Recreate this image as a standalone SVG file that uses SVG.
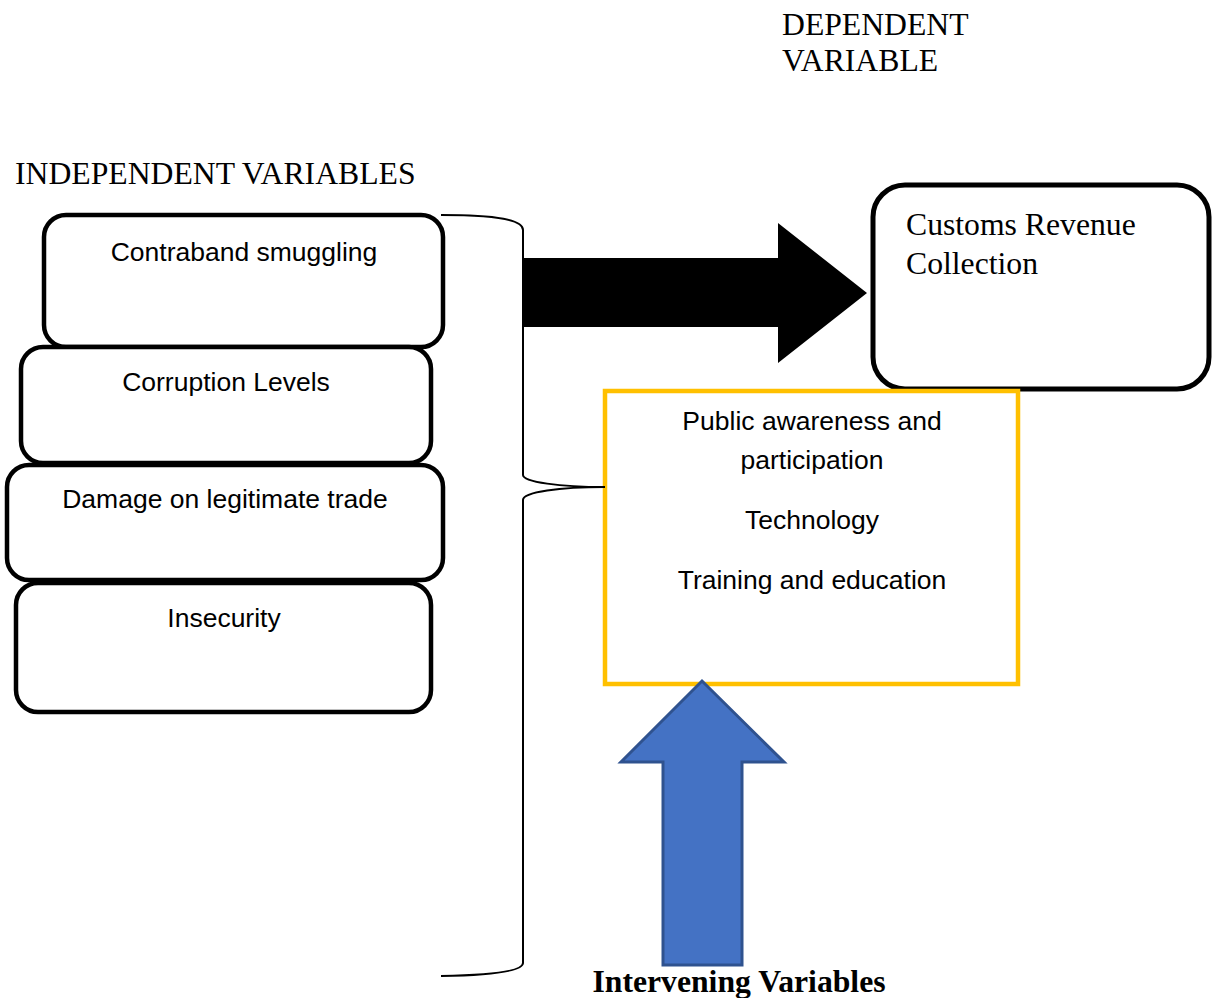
<svg xmlns="http://www.w3.org/2000/svg" width="1217" height="998" viewBox="0 0 1217 998">
<style>
.bg{fill:#ffffff}
.box{fill:#ffffff;stroke:#000000;stroke-width:4.5}
.sans{font-family:"Liberation Sans",Arial,sans-serif;font-size:26.5px;fill:#000000}
.serif{font-family:"Liberation Serif","Times New Roman",serif;font-size:31.7px;fill:#000000}
.bold{font-weight:bold}
.mid{text-anchor:middle}
</style>
<rect class="bg" x="0" y="0" width="1217" height="998"/>
<g id="title-dependent"><text class="serif" x="782" y="35">DEPENDENT</text><text class="serif" x="782" y="71">VARIABLE</text></g>
<g id="title-independent"><text class="serif" x="15" y="184">INDEPENDENT VARIABLES</text></g>
<g id="node-contraband"><rect class="box" x="44" y="215" width="399" height="132" rx="22"/><text class="sans mid" x="244" y="261">Contraband smuggling</text></g>
<g id="node-corruption"><rect class="box" x="21" y="347" width="410" height="116" rx="22"/><text class="sans mid" x="226" y="391">Corruption Levels</text></g>
<g id="node-damage"><rect class="box" x="7" y="465" width="436" height="115" rx="22"/><text class="sans mid" x="225" y="508">Damage on legitimate trade</text></g>
<g id="node-insecurity"><rect class="box" x="16" y="583" width="415" height="129" rx="22"/><text class="sans mid" x="224" y="627">Insecurity</text></g>
<g id="node-customs"><rect x="873" y="185" width="336" height="204" rx="32" fill="#ffffff" stroke="#000000" stroke-width="5"/><text class="serif" x="906" y="235">Customs Revenue</text><text class="serif" x="906" y="274">Collection</text></g>
<g id="node-intervening"><rect x="605" y="391" width="413" height="293" fill="#ffffff" stroke="#FFC000" stroke-width="4.5"/><text class="sans mid" x="812" y="430">Public awareness and</text><text class="sans mid" x="812" y="469">participation</text><text class="sans mid" x="812" y="529">Technology</text><text class="sans mid" x="812" y="589">Training and education</text></g>
<g id="connectors">
<path d="M441 215 C498 215 523 220 523 230 V475 C523 482 560 487 605 487 C560 487 523 492 523 500 V963 C523 971 495 975 441 976" fill="none" stroke="#000000" stroke-width="2"/>
<polygon points="523,258 778,258 778,223 867,293 778,363 778,327 523,327" fill="#000000"/>
<polygon points="702,681 784,762 742,762 742,965 663,965 663,762 621,762" fill="#4472C4" stroke="#2F528F" stroke-width="3"/>
</g>
<g id="label-intervening"><text class="serif bold" x="739" y="992" text-anchor="middle">Intervening Variables</text></g>
</svg>
